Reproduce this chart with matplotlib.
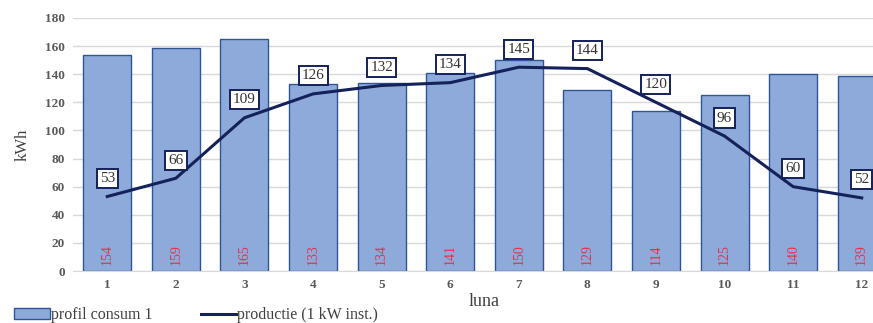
import numpy as np
import matplotlib.pyplot as plt

plt.rcParams['font.family'] = ['Liberation Serif', 'DejaVu Serif']

luni = [str(i) for i in range(1, 13)]
consum = [154, 159, 165, 133, 134, 141, 150, 129, 114, 125, 140, 139]
productie = [53, 66, 109, 126, 132, 134, 145, 144, 120, 96, 60, 52]

fig = plt.figure(figsize=(8.73, 3.23), dpi=100)
ax = fig.add_axes([73 / 873, 52 / 323, 823 / 873, 253 / 323])

x = np.arange(1, 13)
bars = ax.bar(x, consum, width=0.7, color='#8eaadb', edgecolor='#2f5597',
              linewidth=1.0, label='profil consum 1', zorder=2)
line, = ax.plot(x, productie, color='#14215a', linewidth=2.2,
                label='productie (1 kW inst.)', zorder=3)

# consumption values written inside the bars
for xi, v in zip(x, consum):
    ax.text(xi, 4, str(v), rotation=90, ha='center', va='bottom',
            color='#e8304a', fontsize=10, zorder=4)

# boxed production values above the line
for xi, v in zip(x, productie):
    ax.annotate(str(v), (xi, v), xytext=(0, 13), textcoords='offset points',
                ha='center', va='center', fontsize=11, color='#333333',
                bbox=dict(boxstyle='square,pad=0.2', fc='white',
                          ec='#14215a', lw=1.4), zorder=5)

ax.set_xlim(0.5, 12.5)
ax.set_ylim(0, 180)
ax.set_yticks(range(0, 181, 20))
ax.set_xticks(x)
ax.set_xticklabels(luni)
ax.yaxis.grid(True, color='#d9d9d9', linewidth=1.0, zorder=0)
ax.set_axisbelow(True)
for s in ax.spines.values():
    s.set_visible(False)
ax.spines['bottom'].set_visible(True)
ax.spines['bottom'].set_color('#d9d9d9')
ax.tick_params(length=0, labelsize=9.5, labelcolor='#595959', pad=6)
for lbl in ax.get_xticklabels() + ax.get_yticklabels():
    lbl.set_fontweight('bold')

ax.set_ylabel('kWh', fontsize=12, color='#404040', labelpad=10)
ax.set_xlabel('luna', fontsize=13, color='#404040', labelpad=1)

fig.legend([bars, line], ['profil consum 1', 'productie (1 kW inst.)'],
           loc='lower left', bbox_to_anchor=(0.0, -0.045), ncol=2, frameon=False,
           fontsize=11.5, handlelength=2.2, handletextpad=0.1,
           columnspacing=3.0, labelcolor='#404040')

fig.savefig('out.png', dpi=100)
